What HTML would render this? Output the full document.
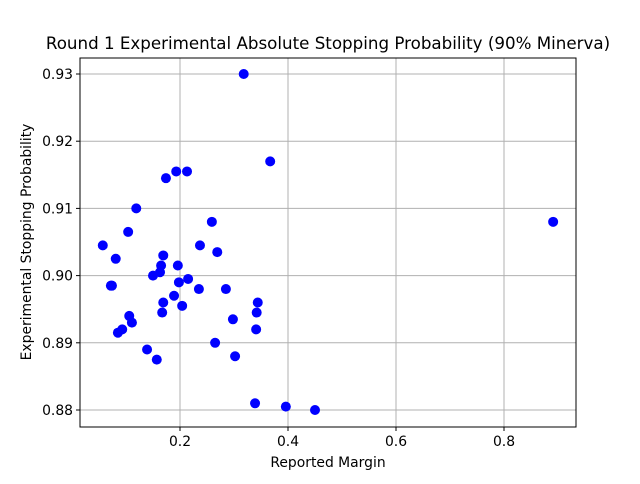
<!DOCTYPE html>
<html><head><meta charset="utf-8"><style>
body{margin:0;background:#fff;font-family:"DejaVu Sans","Liberation Sans",sans-serif;}
</style></head><body>
<svg width="640" height="480" xmlns="http://www.w3.org/2000/svg" font-family="DejaVu Sans, Liberation Sans, sans-serif">
<rect width="640" height="480" fill="#fff"/>
<g id="grid"></g>
<g id="pts"></g>
<rect x="80" y="58" width="496" height="369" fill="none" stroke="#000" stroke-width="1"/>
<g id="ticks" font-size="13.9" fill="#000"></g>
<text x="328" y="49" text-anchor="middle" font-size="16.7">Round 1 Experimental Absolute Stopping Probability (90% Minerva)</text>
<text x="328" y="467" text-anchor="middle" font-size="13.9">Reported Margin</text>
<text x="31" y="242" text-anchor="middle" font-size="13.9" transform="rotate(-90 31 242)">Experimental Stopping Probability</text>
</svg>
<script>
const xs=[0.318,0.367,0.193,0.213,0.174,0.119,0.259,0.891,0.104,0.057,0.237,0.269,0.081,0.169,0.165,0.196,0.163,0.150,0.215,0.198,0.072,0.074,0.235,0.285,0.189,0.169,0.344,0.204,0.167,0.342,0.106,0.298,0.111,0.341,0.093,0.085,0.139,0.265,0.302,0.157,0.339,0.396,0.450];
const ys=[0.930,0.917,0.9155,0.9155,0.9145,0.910,0.908,0.908,0.9065,0.9045,0.9045,0.9035,0.9025,0.903,0.9015,0.9015,0.9005,0.900,0.8995,0.899,0.8985,0.8985,0.898,0.898,0.897,0.896,0.896,0.8955,0.8945,0.8945,0.894,0.8935,0.893,0.892,0.892,0.8915,0.889,0.890,0.888,0.8875,0.881,0.8805,0.880];
const xTicks=[0.2,0.4,0.6,0.8];
const yTicks=[0.88,0.89,0.90,0.91,0.92,0.93];
const NS="http://www.w3.org/2000/svg";
const X=v=>72+v*540, Y=v=>74+(0.93-v)*6720;
const grid=document.getElementById('grid'),ticks=document.getElementById('ticks'),pts=document.getElementById('pts');
function mk(tag,attrs,parent){const e=document.createElementNS(NS,tag);for(const k in attrs)e.setAttribute(k,attrs[k]);parent.appendChild(e);return e;}
xTicks.forEach(t=>{const x=X(t);
const g=mk('line',{x1:x,x2:x,y1:58,y2:427,stroke:'#b0b0b0','stroke-width':1},grid);


mk('line',{x1:x,x2:x,y1:427,y2:431,stroke:'#000'},ticks);
const tx=mk('text',{x:x,y:446,'text-anchor':'middle'},ticks);tx.textContent=t.toFixed(1);

});
yTicks.forEach(t=>{const y=Y(t);
const g=mk('line',{x1:80,x2:576,y1:y,y2:y,stroke:'#b0b0b0','stroke-width':1},grid);


mk('line',{x1:76,x2:80,y1:y,y2:y,stroke:'#000'},ticks);
const tx=mk('text',{x:73,y:y+5,'text-anchor':'end'},ticks);tx.textContent=t.toFixed(2);

});
xs.forEach((v,i)=>{const c=mk('circle',{cx:X(v),cy:Y(ys[i]),r:5,fill:'#0000ff'},pts);

});
</script>
</body></html>
